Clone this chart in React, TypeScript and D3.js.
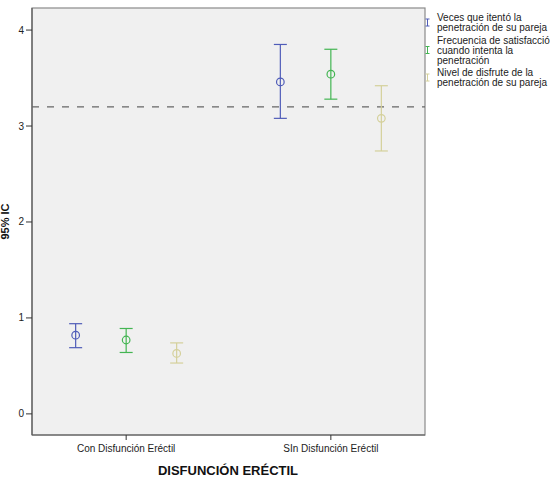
import React from "react";
import * as d3 from "d3";

const groups = ["Con Disfunción Eréctil", "Sin Disfunción Eréctil"];
const groupLabels = ["Con Disfunción Eréctil", "SIn Disfunción Eréctil"];
const seriesNames = [
  ["Veces que itentó la", "penetración de su pareja"],
  ["Frecuencia de satisfacció", "cuando intenta la", "penetración"],
  ["Nivel de disfrute de la", "penetración de su pareja"],
];
const seriesColors = ["#4f5cb8", "#43b552", "#d4d09a"];
const means = [
  [0.82, 3.46],
  [0.77, 3.54],
  [0.63, 3.08],
];
const lower = [
  [0.69, 3.08],
  [0.64, 3.28],
  [0.53, 2.74],
];
const upper = [
  [0.94, 3.85],
  [0.89, 3.8],
  [0.74, 3.42],
];
const yTicks = [0, 1, 2, 3, 4];
const refLine = 3.2;

const W = 555;
const H = 477;
const plot = { left: 32, right: 425, top: 8, bottom: 435 };

export default function App() {
  const y = d3.scaleLinear().domain([-0.22, 4.23]).range([plot.bottom, plot.top]);
  const x = d3.scalePoint<string>().domain(groups).range([plot.left, plot.right]).padding(0.46);
  const off = d3
    .scalePoint<number>()
    .domain(seriesNames.map((_, i) => i))
    .range([-50.5, 50.5]);

  const cap = 6.5;
  const r = 3.8;

  // legend layout
  const legendX = 437;
  const lineH = 10;
  const itemGap = 2.5;
  let cursor = 21;
  const legendItems = seriesNames.map((lines, i) => {
    const start = cursor;
    cursor += lines.length * lineH + itemGap;
    return { lines, start, i };
  });

  return (
    <svg
      width={W}
      height={H}
      style={{ position: "absolute", left: 0, top: 0, fontFamily: "'Liberation Sans', Arial, sans-serif" }}
    >
      <rect x={0} y={0} width={W} height={H} fill="#ffffff" />
      <rect
        x={plot.left}
        y={plot.top}
        width={plot.right - plot.left}
        height={plot.bottom - plot.top}
        fill="#f0f0f0"
        stroke="#8a8a8a"
        strokeWidth={1.2}
      />
      {/* axes */}
      <line x1={plot.left} x2={plot.left} y1={plot.top} y2={plot.bottom} stroke="#5a5a5a" strokeWidth={1.2} />
      <line x1={plot.left} x2={plot.right} y1={plot.bottom} y2={plot.bottom} stroke="#5a5a5a" strokeWidth={1.2} />
      {yTicks.map((t) => (
        <g key={t}>
          <line x1={plot.left - 6} x2={plot.left} y1={y(t)} y2={y(t)} stroke="#333" strokeWidth={1} />
          <text x={plot.left - 8} y={y(t) + 3.5} fontSize={10} textAnchor="end" fill="#222">
            {t}
          </text>
        </g>
      ))}
      {groups.map((g, gi) => (
        <g key={g}>
          <line x1={x(g)!} x2={x(g)!} y1={plot.bottom} y2={plot.bottom + 5} stroke="#333" strokeWidth={1} />
          <text x={x(g)!} y={plot.bottom + 17} fontSize={10} textAnchor="middle" fill="#222">
            {groupLabels[gi]}
          </text>
        </g>
      ))}
      {/* reference line */}
      <line
        x1={plot.left}
        x2={plot.right}
        y1={y(refLine)}
        y2={y(refLine)}
        stroke="#666"
        strokeWidth={1.2}
        strokeDasharray="7,8"
      />
      {/* error bars */}
      {seriesNames.map((_, si) =>
        groups.map((g, gi) => {
          const cx = x(g)! + off(si)!;
          const c = seriesColors[si];
          return (
            <g key={`${si}-${gi}`} stroke={c} strokeWidth={1.2} fill="none">
              <line x1={cx} x2={cx} y1={y(upper[si][gi])} y2={y(lower[si][gi])} />
              <line x1={cx - cap} x2={cx + cap} y1={y(upper[si][gi])} y2={y(upper[si][gi])} />
              <line x1={cx - cap} x2={cx + cap} y1={y(lower[si][gi])} y2={y(lower[si][gi])} />
              <circle cx={cx} cy={y(means[si][gi])} r={r} />
            </g>
          );
        })
      )}
      {/* axis titles */}
      <text x={228} y={475} fontSize={13} fontWeight="bold" textAnchor="middle" fill="#111">
        DISFUNCIÓN ERÉCTIL
      </text>
      <text
        transform={`translate(9, ${(plot.top + plot.bottom) / 2}) rotate(-90)`}
        fontSize={11}
        fontWeight="bold"
        textAnchor="middle"
        fill="#111"
      >
        95% IC
      </text>
      {/* legend */}
      {legendItems.map(({ lines, start, i }) => {
        const midY = start - 3.5 + ((lines.length - 1) * lineH) / 2;
        const c = seriesColors[i];
        return (
          <g key={i}>
            <g stroke={c} strokeWidth={1}>
              <line x1={427.5} x2={427.5} y1={midY - 3.5} y2={midY + 3.5} />
              <line x1={425.5} x2={429.5} y1={midY - 3.5} y2={midY - 3.5} />
              <line x1={425.5} x2={429.5} y1={midY + 3.5} y2={midY + 3.5} />
            </g>
            {lines.map((l, li) => (
              <text key={li} x={legendX} y={start + li * lineH} fontSize={10} fill="#222">
                {l}
              </text>
            ))}
          </g>
        );
      })}
    </svg>
  );
}
